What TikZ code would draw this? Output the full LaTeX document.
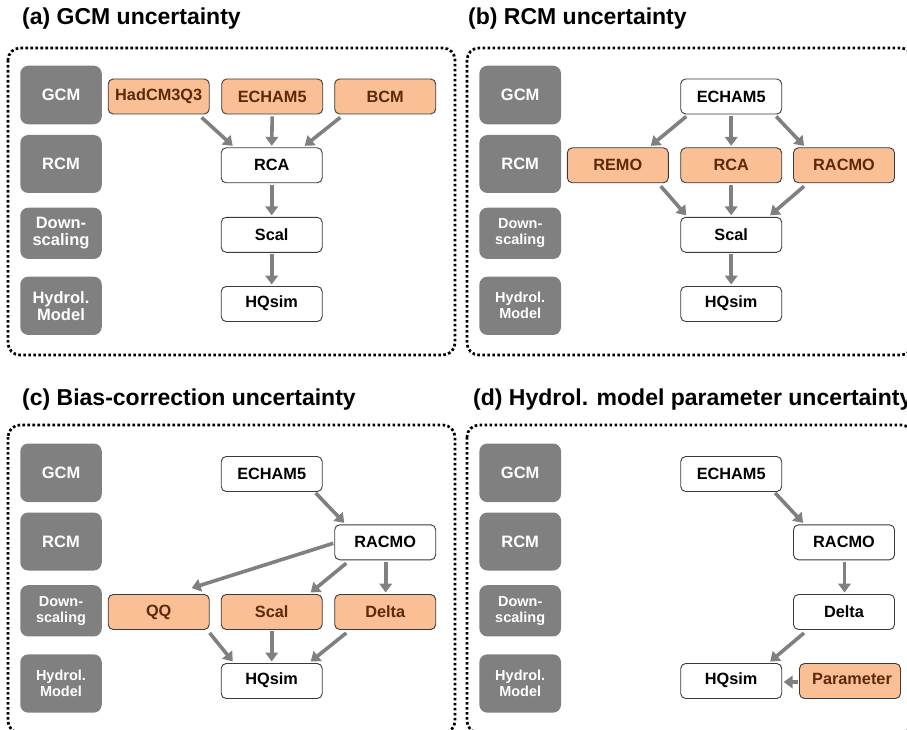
\documentclass[tikz,border=0pt]{standalone}
\usepackage{fontspec}
\setmainfont{Liberation Sans}
\usetikzlibrary{arrows.meta,calc}
\definecolor{lblgrey}{HTML}{808080}
\definecolor{arrgrey}{HTML}{808080}
\definecolor{orfill}{HTML}{FBBF95}
\definecolor{ortext}{HTML}{5A2A0A}
\definecolor{boxline}{HTML}{3A3A3A}
\tikzset{
  lbl/.style={fill=lblgrey,rounded corners=8pt,minimum width=81.5pt,inner sep=0pt,
    text=white,font=\bfseries\fontsize{16.5}{17}\selectfont,align=center},
  lblsm/.style={lbl,font=\bfseries\fontsize{14.5}{16}\selectfont},
  wbox/.style={draw=boxline,line width=0.9pt,fill=white,rounded corners=5pt,
    minimum width=101pt,minimum height=35pt,inner sep=0pt,
    font=\bfseries\fontsize{16.3}{17}\selectfont},
  obox/.style={wbox,fill=orfill,text=ortext},
  frame/.style={line width=2.7pt,dash pattern=on 2.7pt off 2.3pt,rounded corners=12pt},
  ttl/.style={anchor=base west,inner sep=0pt,font=\bfseries\fontsize{23}{25}\selectfont},
  arr/.style={draw=arrgrey,line width=3.6pt,-{Triangle[width=12.5pt,length=9pt]},arrgrey}
}
\begin{document}
\begin{tikzpicture}[x=1pt,y=-1pt]
\useasboundingbox (0,0) rectangle (907,730);
% ---------------- (a)
\node[ttl] (ta) at (22,25) {(a) GCM uncertainty};
\draw[frame] (8,48) rectangle (455,355);
\node[lbl,minimum height=58.6pt] (ag) at (61,95) {GCM};
\node[lbl,minimum height=58pt] (ar) at (61,164) {RCM};
\node[lbl,minimum height=51.3pt] (ad) at (61,233.3) {Down-\\scaling};
\node[lbl,minimum height=58.3pt] (ah) at (61,305.8) {Hydrol.\\Model};
\node[obox] (ahad) at (158.7,96.5) {HadCM3Q3};
\node[obox] (aech) at (272.2,96.5) {ECHAM5};
\node[obox] (abcm) at (385.2,96.5) {BCM};
\node[wbox] (arca) at (271.7,165.3) {RCA};
\node[wbox] (ascal) at (271.7,234.8) {Scal};
\node[wbox] (ahq) at (271.7,304) {\raisebox{4pt}{HQsim}};
\draw[arr] ($(ahad.south east)+(-8,3)$) -- ($(arca.north west)+(12,-1.5)$);
\draw[arr] ($(aech.south)+(0,2)$) -- ($(arca.north)+(0,-1.5)$);
\draw[arr] ($(abcm.south west)+(6,3)$) -- ($(arca.north east)+(-18,-1.5)$);
\draw[arr] ($(arca.south)+(0,2)$) -- ($(ascal.north)+(0,-1.5)$);
\draw[arr] ($(ascal.south)+(0,1)$) -- ($(ahq.north)+(0,-1.5)$);
% ---------------- (b)
\node[ttl] (tb) at (468,25) {(b) RCM uncertainty};
\draw[frame] (467,48) rectangle (913,355);
\node[lbl,minimum width=81.7pt,minimum height=58.6pt] (bg) at (520.2,95) {GCM};
\node[lbl,minimum width=81.7pt,minimum height=58pt] (br) at (520.2,164) {RCM};
\node[lblsm,minimum width=81.7pt,minimum height=51.3pt] (bd) at (520.2,233.3) {Down-\\scaling};
\node[lblsm,minimum width=81.7pt,minimum height=58.3pt] (bh) at (520.2,305.8) {Hydrol.\\Model};
\node[wbox] (bech) at (731.2,96.5) {ECHAM5};
\node[obox] (bremo) at (617.8,165.3) {REMO};
\node[obox] (brca) at (731.2,165.3) {RCA};
\node[obox] (bracmo) at (844,165.3) {RACMO};
\node[wbox] (bscal) at (731.2,234.8) {Scal};
\node[wbox] (bhq) at (731.2,304) {\raisebox{4pt}{HQsim}};
\draw[arr] ($(bech.south west)+(6,2)$) -- ($(bremo.north east)+(-18,-1.5)$);
\draw[arr] ($(bech.south)+(0,2)$) -- ($(brca.north)+(0,-1.5)$);
\draw[arr] ($(bech.south east)+(-6,2)$) -- ($(bracmo.north west)+(11,-1.5)$);
\draw[arr] ($(bremo.south east)+(-8,3)$) -- ($(bscal.north west)+(6,-1.5)$);
\draw[arr] ($(brca.south)+(0,2)$) -- ($(bscal.north)+(0,-1.5)$);
\draw[arr] ($(bracmo.south west)+(11,3)$) -- ($(bscal.north east)+(-12,-1.5)$);
\draw[arr] ($(bscal.south)+(0,1)$) -- ($(bhq.north)+(0,-1.5)$);
% ---------------- (c)
\node[ttl] (tc) at (22,405) {(c) Bias-correction uncertainty};
\draw[frame] (8,425) rectangle (455,733);
\node[lbl,minimum height=58.6pt] (cg) at (61,472.8) {GCM};
\node[lbl,minimum height=58pt] (cr) at (61,541.5) {RCM};
\node[lblsm,minimum height=51.3pt] (cd) at (61,610.8) {Down-\\scaling};
\node[lblsm,minimum height=58.3pt] (ch) at (61,683.5) {Hydrol.\\Model};
\node[wbox] (cech) at (271.7,474) {ECHAM5};
\node[wbox] (cracmo) at (385.2,542.3) {RACMO};
\node[obox] (cqq) at (158.7,612) {QQ};
\node[obox] (cscal) at (271.7,612) {Scal};
\node[obox] (cdelta) at (385.2,612) {Delta};
\node[wbox] (chq) at (271.7,681) {\raisebox{4pt}{HQsim}};
\draw[arr] ($(cech.south east)+(-7,1)$) -- ($(cracmo.north west)+(10,-1.5)$);
\draw[arr] ($(cracmo.west)+(-1,1)$) -- ($(cqq.north east)+(-18,-6)$);
\draw[arr] ($(cracmo.south west)+(12,3)$) -- ($(cscal.north east)+(-12,-1.5)$);
\draw[arr] ($(cracmo.south)+(0.5,2)$) -- ($(cdelta.north)+(0.5,-1.5)$);
\draw[arr] ($(cqq.south east)+(0,3)$) -- ($(chq.north west)+(12,-1.5)$);
\draw[arr] ($(cscal.south)+(0,1)$) -- ($(chq.north)+(0,-1.5)$);
\draw[arr] ($(cdelta.south west)+(12,3)$) -- ($(chq.north east)+(-12,-1.5)$);
% ---------------- (d)
\node[ttl] (td) at (473,405) {(d) Hydrol. model parameter uncertainty};
\draw[frame] (467,425) rectangle (913,733);
\node[lbl,minimum width=81.7pt,minimum height=58.6pt] (dg) at (520.2,472.8) {GCM};
\node[lbl,minimum width=81.7pt,minimum height=58pt] (dr) at (520.2,541.5) {RCM};
\node[lblsm,minimum width=81.7pt,minimum height=51.3pt] (dd) at (520.2,610.8) {Down-\\scaling};
\node[lblsm,minimum width=81.7pt,minimum height=58.3pt] (dh) at (520.2,683.5) {Hydrol.\\Model};
\node[wbox] (dech) at (731.2,474) {ECHAM5};
\node[wbox] (dracmo) at (844,542.3) {RACMO};
\node[wbox] (ddelta) at (844,612) {Delta};
\node[wbox] (dhq) at (731.2,681) {\raisebox{4pt}{HQsim}};
\node[obox] (dpar) at (850,681) {\hspace*{4pt}\raisebox{4pt}{Parameter}};
\draw[arr] ($(dech.south east)+(-7,1)$) -- ($(dracmo.north west)+(10,-1.5)$);
\draw[arr] ($(dracmo.south)+(0.5,2)$) -- ($(ddelta.north)+(0.5,-1.5)$);
\draw[arr] ($(ddelta.south west)+(11,3)$) -- ($(dhq.north east)+(-12,-1.5)$);
\draw[arr] ($(dpar.west)+(-1,1)$) -- ($(dhq.east)+(1.5,1)$);
\end{tikzpicture}
\end{document}
